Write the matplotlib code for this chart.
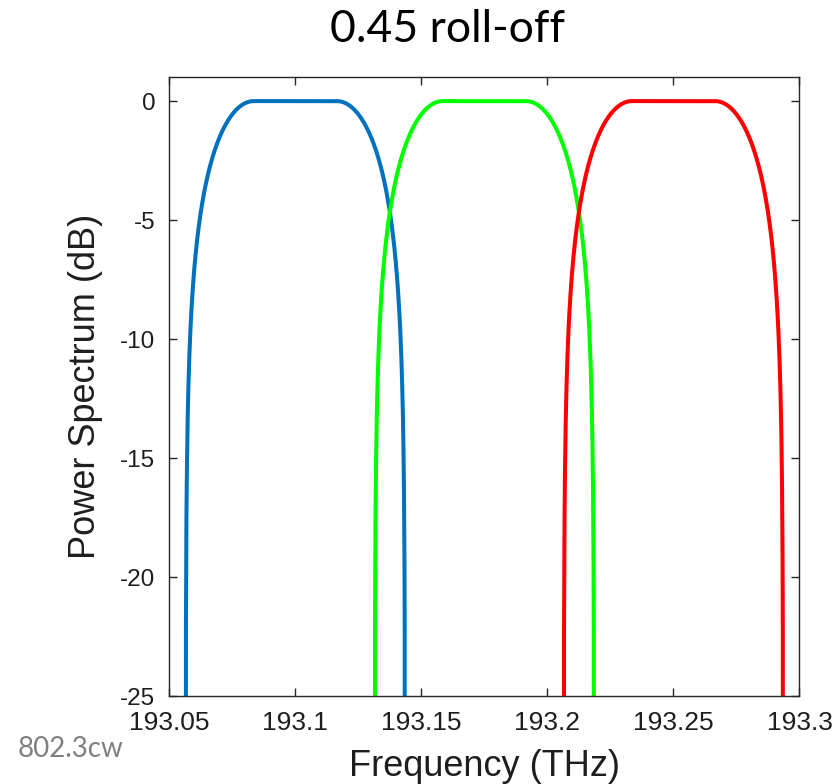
import numpy as np
import matplotlib
matplotlib.use("Agg")
import matplotlib.pyplot as plt

# Channel plan: three carriers on a 75 GHz grid
channel_centers_thz = [193.100, 193.175, 193.250]
channel_colors = ["#0072BD", "#00FF00", "#FF0000"]
symbol_rate_thz = 0.060   # 60 GBd
roll_off = 0.45

x_ticks = [193.05, 193.1, 193.15, 193.2, 193.25, 193.3]
x_tick_labels = ["193.05", "193.1", "193.15", "193.2", "193.25", "193.3"]
y_ticks = [0, -5, -10, -15, -20, -25]
y_tick_labels = ["0", "-5", "-10", "-15", "-20", "-25"]


def raised_cosine(f, fc, rs, beta):
    """Raised-cosine shape around fc (linear, peak 1)."""
    df = np.abs(f - fc)
    f1 = (1 - beta) * rs / 2
    f2 = (1 + beta) * rs / 2
    h = np.zeros_like(f)
    h[df <= f1] = 1.0
    mid = (df > f1) & (df <= f2)
    h[mid] = 0.5 * (1 + np.cos(np.pi / (beta * rs) * (df[mid] - f1)))
    return h


freq = np.arange(193.0, 193.35, 0.0001)

fig = plt.figure(figsize=(8.36, 7.84), dpi=100)
ax = fig.add_axes([0.2025, 0.1122, 0.7538, 0.7892])

for fc, col in zip(channel_centers_thz, channel_colors):
    h = raised_cosine(freq, fc, symbol_rate_thz, roll_off)
    # root-raised-cosine amplitude expressed in dB
    spec_db = 10 * np.log10(np.maximum(np.sqrt(h), 1e-8))
    ax.plot(freq, spec_db, color=col, linewidth=2.9, solid_capstyle="butt")

ax.set_xlim(193.05, 193.3)
ax.set_ylim(-25, 1)
ax.set_xticks(x_ticks)
ax.set_xticklabels(x_tick_labels)
ax.set_yticks(y_ticks)
ax.set_yticklabels(y_tick_labels)

tick_font = "Liberation Sans"
text_color = "#1e1e1e"
for lbl in ax.get_xticklabels():
    lbl.set_fontfamily(tick_font)
    lbl.set_fontsize(19)
for lbl in ax.get_yticklabels():
    lbl.set_fontfamily(tick_font)
    lbl.set_fontsize(17.5)

ax.tick_params(axis="both", direction="in", length=6, width=1.0,
               color="#262626", labelcolor=text_color,
               top=True, right=True)
ax.tick_params(axis="x", pad=11)
ax.tick_params(axis="y", pad=10)
for sp in ax.spines.values():
    sp.set_color("#262626")
    sp.set_linewidth(1.0)

ax.set_xlabel("Frequency (THz)", fontfamily=tick_font, fontsize=26,
              color=text_color, labelpad=10)
ax.set_ylabel("Power Spectrum (dB)", fontfamily=tick_font, fontsize=26,
              color=text_color, labelpad=12)

fig.text(0.535, 1 - 42 / 784, "0.45 roll-off", fontfamily="Lato",
         fontsize=32, color="black", ha="center", va="baseline")
fig.text(18 / 836, 1 - 757 / 784, "802.3cw", fontfamily="Lato",
         fontsize=20, color="#808080", ha="left", va="baseline")

fig.savefig("out.png", dpi=100)
